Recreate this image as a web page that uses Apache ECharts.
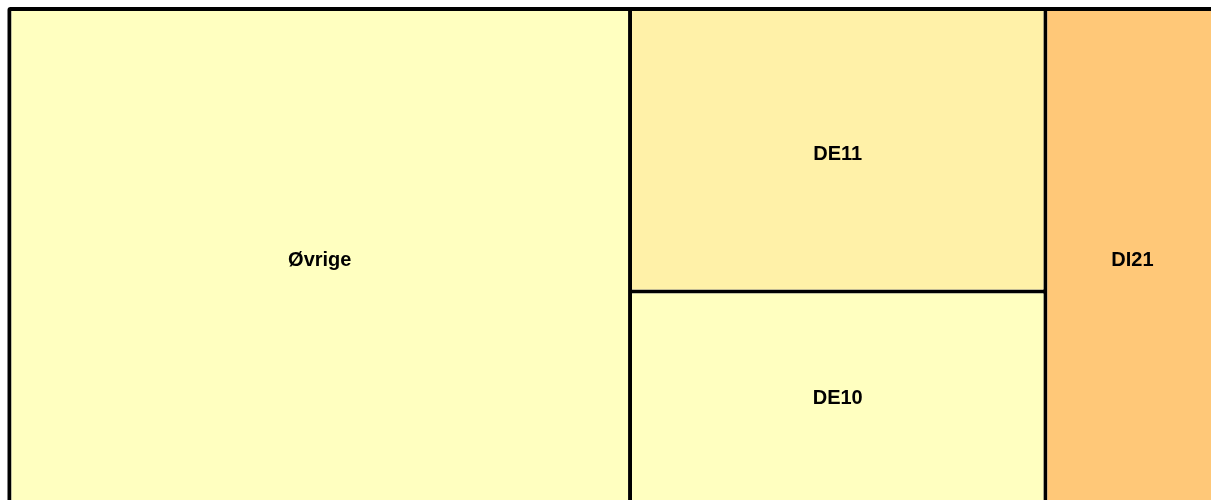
<!DOCTYPE html>
<html>
<head>
<meta charset="utf-8">
<script src="https://cdn.jsdelivr.net/npm/echarts@6/dist/echarts.min.js"></script>
<style>html,body{margin:0;padding:0;background:#fff;}#c{width:1211px;height:500px;}</style>
</head>
<body>
<div id="c"></div>
<script>
const names = ['Øvrige', 'DE11', 'DE10', 'DI21'];
const values = [3094, 1170, 901, 868];
const colors = ['#FFFFC0', '#FFF1A8', '#FFFFC0', '#FFC878'];
const labelDy = [1, 4, -2, 1];

const chart = echarts.init(document.getElementById('c'), null, {renderer: 'canvas'});
chart.setOption({
  animation: false,
  series: [{
    type: 'treemap',
    left: 7.5, top: 7, width: 1214, height: 504,
    roam: false,
    nodeClick: false,
    breadcrumb: {show: false},
    label: {
      show: true, position: 'inside', align: 'center', verticalAlign: 'middle',
      fontFamily: 'Liberation Sans, Arial, sans-serif', fontWeight: 'bold', fontSize: 20, color: '#000'
    },
    upperLabel: {show: false},
    levels: [
      {itemStyle: {borderColor: '#000', borderWidth: 4, gapWidth: 4, borderRadius: 3}},
      {itemStyle: {borderWidth: 0, gapWidth: 0}}
    ],
    data: names.map((n, i) => ({
      name: n,
      value: values[i],
      itemStyle: {color: colors[i]},
      label: {offset: [0, labelDy[i]]}
    }))
  }]
});
</script>
</body>
</html>
